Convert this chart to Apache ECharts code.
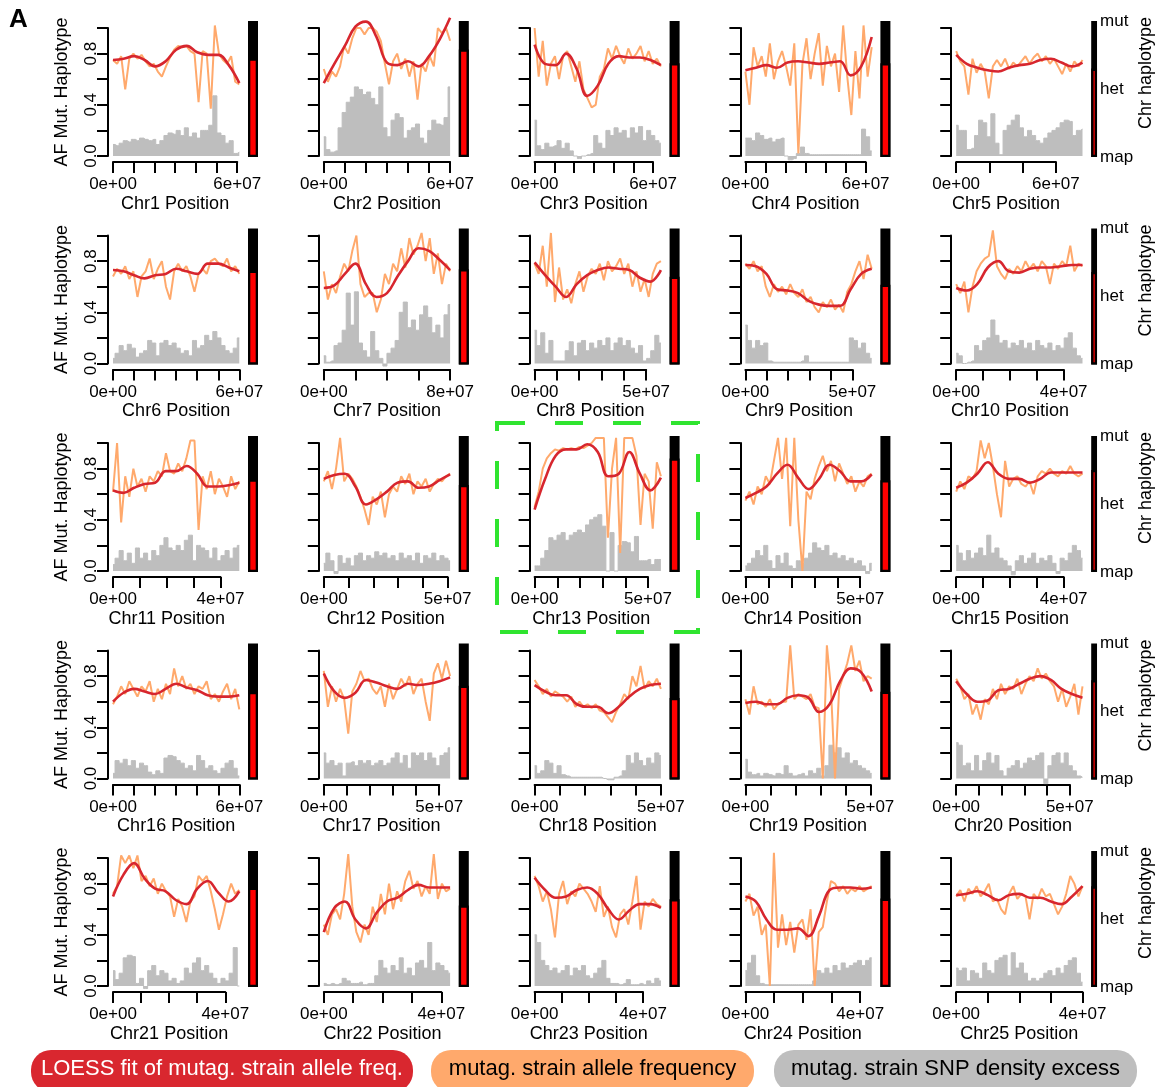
<!DOCTYPE html>
<html><head><meta charset="utf-8">
<script src="https://cdn.jsdelivr.net/npm/echarts@6/dist/echarts.min.js"></script>
<style>html,body{margin:0;padding:0;background:#fff}#c{width:1156px;height:1087px}</style>
</head><body><div id="c"></div><script>
// ---------------- data ----------------
const chrNames = ['Chr1','Chr2','Chr3','Chr4','Chr5','Chr6','Chr7','Chr8','Chr9','Chr10','Chr11','Chr12','Chr13','Chr14','Chr15','Chr16','Chr17','Chr18','Chr19','Chr20','Chr21','Chr22','Chr23','Chr24','Chr25'];
const chrLengthMb = [61,60,64,63,76,60,80,56.6,59,47,47,51,55.7,55,47,60,54.7,50,50.5,55.6,45,43,46.6,44,40];
const tickStepMb  = [10,10,10,10,20,10,20,10,10,10,10,10,10,10,10,10,10,10,10,10,10,10,10,10,10];
const hapFraction = [0.725,0.79,0.69,0.69,0.65,0.69,0.70,0.646,0.587,0.68,0.68,0.64,0.835,0.675,0.75,0.644,0.69,0.60,0.646,0.73,0.73,0.60,0.646,0.65,0.74];
const hapLabels = ['map','het','mut'];

// allele frequency of mutagenized strain (evenly spaced along each chromosome)
const af1  = [0.75,0.72,0.78,0.52,0.76,0.80,0.76,0.79,0.74,0.70,0.72,0.66,0.62,0.70,0.77,0.83,0.86,0.85,0.86,0.82,0.80,0.42,0.82,0.80,0.37,1.02,0.80,0.75,0.72,0.78,0.58,0.56];
const af2  = [0.68,0.58,0.66,0.62,0.70,0.86,0.80,0.92,1.0,1.0,0.95,1.0,1.0,0.97,0.90,0.72,0.56,0.74,0.80,0.68,0.76,0.62,0.74,0.44,0.72,0.66,0.78,0.70,1.0,0.96,1.0,0.90];
const af3  = [1.0,0.62,0.90,0.55,0.72,0.78,0.60,0.78,0.82,0.70,0.58,0.74,0.52,0.45,0.38,0.40,0.62,0.68,0.84,0.76,0.86,0.78,0.72,0.84,0.76,0.80,0.86,0.74,0.82,0.72,0.76,0.70];
const af4  = [0.66,0.40,0.85,0.70,0.78,0.62,0.88,0.60,0.74,0.82,0.70,0.55,0.88,0.02,0.72,0.92,0.60,0.80,0.96,0.55,0.86,0.70,0.80,0.50,1.02,0.62,0.32,0.82,0.45,1.02,0.62,0.85];
const af5  = [0.82,0.74,0.70,0.48,0.76,0.65,0.72,0.66,0.45,0.70,0.75,0.70,0.76,0.68,0.73,0.70,0.74,0.78,0.72,0.77,0.80,0.74,0.78,0.72,0.76,0.70,0.64,0.72,0.66,0.74,0.70,0.75];
const af6  = [0.68,0.74,0.70,0.76,0.66,0.72,0.52,0.68,0.72,0.82,0.66,0.74,0.80,0.60,0.50,0.72,0.78,0.72,0.76,0.68,0.56,0.70,0.74,0.70,0.80,0.82,0.78,0.76,0.82,0.72,0.76,0.70];
const af7  = [0.72,0.50,0.62,0.55,0.68,0.78,0.72,0.88,1.0,0.62,0.52,0.55,0.55,0.40,0.50,0.70,0.62,0.78,0.72,0.90,0.75,0.98,0.85,0.92,1.02,0.80,0.98,0.70,0.86,0.62,0.78,0.72];
const af8  = [0.78,0.70,0.92,0.60,1.02,0.48,0.75,0.50,0.58,0.47,0.62,0.72,0.56,0.68,0.74,0.70,0.78,0.65,0.80,0.72,0.76,0.82,0.70,0.78,0.60,0.72,0.56,0.66,0.52,0.70,0.78,0.80];
const af9  = [0.78,0.74,0.80,0.72,0.76,0.60,0.52,0.62,0.56,0.60,0.54,0.62,0.55,0.52,0.58,0.48,0.52,0.44,0.40,0.48,0.44,0.50,0.42,0.46,0.40,0.56,0.62,0.72,0.80,0.66,0.85,0.74];
const af10 = [0.62,0.55,0.64,0.40,0.60,0.72,0.78,0.82,0.84,1.04,0.76,0.70,0.66,0.74,0.70,0.76,0.72,0.80,0.74,0.78,0.72,0.80,0.76,0.62,0.78,0.74,0.80,0.76,0.92,0.72,0.78,0.76];
const af11 = [0.62,1.0,0.38,0.74,0.58,0.80,0.66,0.72,0.62,0.74,0.70,0.78,0.74,0.92,0.78,0.76,0.84,0.78,0.88,1.02,1.02,0.32,0.74,0.64,0.78,0.60,0.72,0.66,0.58,0.74,0.64,0.70];
const af12 = [0.70,0.78,0.64,0.80,1.04,0.70,0.76,0.72,0.66,0.58,0.48,0.36,0.58,0.52,0.62,0.42,0.60,0.66,0.62,0.74,0.68,0.76,0.60,0.70,0.66,0.72,0.62,0.68,0.72,0.70,0.74,0.76];
const af13 = [0.50,0.62,0.80,0.88,0.92,0.95,0.94,0.96,0.95,0.96,0.95,0.97,0.96,0.98,1.0,1.04,1.04,1.04,0.26,0.80,1.04,0.14,1.04,1.04,1.04,0.90,0.36,0.76,0.70,0.33,0.85,0.74];
const af14 = [0.55,0.62,0.52,0.66,0.60,0.74,0.68,0.86,1.04,0.72,1.04,0.35,1.04,0.40,0.0,0.62,0.56,0.72,0.82,0.90,0.78,0.86,0.70,0.84,0.76,0.68,0.74,0.62,0.70,0.66,0.74,0.76];
const af15 = [0.62,0.70,0.64,0.74,0.72,0.78,1.02,0.88,1.0,0.82,0.60,0.42,0.86,0.66,0.72,0.74,0.68,0.66,0.70,0.60,0.74,0.78,0.76,0.80,0.76,0.74,0.78,0.76,0.82,0.76,0.74,0.76];
const af16 = [0.58,0.64,0.72,0.66,0.76,0.70,0.64,0.72,0.68,0.76,0.60,0.70,0.62,0.74,0.66,0.86,0.72,0.80,0.70,0.74,0.66,0.72,0.70,0.76,0.62,0.66,0.60,0.68,0.74,0.62,0.70,0.54];
const af17 = [0.84,0.56,0.72,0.60,0.70,0.62,0.35,0.68,0.74,0.84,0.76,0.78,0.70,0.66,0.72,0.56,0.74,0.62,0.70,0.78,0.72,0.80,0.66,0.74,0.78,0.60,0.45,0.82,0.90,0.78,0.92,0.80];
const af18 = [0.77,0.72,0.66,0.70,0.64,0.68,0.66,0.64,0.60,0.64,0.56,0.60,0.56,0.58,0.55,0.58,0.53,0.52,0.48,0.44,0.52,0.58,0.66,0.62,0.80,0.72,0.88,0.70,0.76,0.72,0.78,0.70];
const af19 = [0.62,0.50,0.72,0.58,0.60,0.56,0.62,0.54,0.58,0.60,0.60,1.04,0.62,0.66,0.64,0.62,0.66,0.56,0.55,0.0,1.04,0.70,0.0,0.70,0.80,0.90,1.04,0.84,0.92,0.76,0.80,0.78];
const af20 = [0.78,0.72,0.62,0.66,0.50,0.58,0.46,0.62,0.58,0.70,0.62,0.74,0.66,0.72,0.70,0.78,0.66,0.74,0.80,0.76,0.86,0.78,0.82,0.76,0.72,0.60,0.70,0.56,0.64,0.74,0.50,0.72];
const af21 = [0.72,0.78,1.02,0.96,1.02,0.92,1.02,0.82,0.86,0.78,0.84,0.72,0.80,0.74,0.70,0.54,0.68,0.62,0.50,0.66,0.70,0.86,0.82,0.86,0.74,0.60,0.44,0.56,0.70,0.80,0.72,0.75];
const af22 = [0.48,0.40,0.56,0.60,0.52,0.72,1.03,0.62,0.42,0.34,0.48,0.40,0.62,0.50,0.72,0.56,0.80,0.60,0.74,0.66,0.82,0.90,0.76,0.82,0.70,0.78,0.72,1.03,0.68,0.80,0.74,0.76];
const af23 = [0.86,0.78,0.66,0.74,0.60,0.38,0.72,0.82,0.64,0.74,0.70,0.80,0.76,0.72,0.66,0.58,0.78,0.54,0.62,0.46,0.38,0.56,0.60,0.48,0.66,0.86,0.44,0.66,0.62,0.68,0.64,0.62];
const af24 = [0.66,0.72,0.55,0.62,0.40,0.48,0.0,1.04,0.30,0.56,0.32,0.50,0.26,0.48,0.52,0.36,0.60,0.0,0.42,0.46,0.66,0.82,0.80,0.74,0.78,0.72,0.76,0.74,0.78,0.74,0.76,0.78];
const af25 = [0.70,0.75,0.66,0.76,0.72,0.78,0.70,0.74,0.80,0.66,0.68,0.60,0.56,0.72,0.78,0.68,0.72,0.70,0.52,0.72,0.68,0.76,0.70,0.72,0.64,0.56,0.62,0.72,0.86,0.80,0.70,0.78];

// LOESS fit (evenly spaced along each chromosome)
const lo1  = [0.75,0.76,0.78,0.75,0.70,0.74,0.83,0.86,0.81,0.79,0.79,0.71,0.57];
const lo2  = [0.57,0.72,0.86,1.01,1.05,0.93,0.73,0.71,0.74,0.70,0.78,0.91,1.08];
const lo3  = [0.87,0.72,0.71,0.80,0.68,0.47,0.55,0.72,0.78,0.77,0.77,0.75,0.71];
const lo4  = [0.67,0.69,0.71,0.69,0.73,0.74,0.73,0.72,0.73,0.74,0.63,0.70,0.93];
const lo5  = [0.79,0.72,0.69,0.67,0.66,0.69,0.71,0.72,0.75,0.76,0.73,0.70,0.73];
const lo6  = [0.73,0.72,0.69,0.665,0.69,0.70,0.74,0.72,0.70,0.78,0.78,0.75,0.72];
const lo7  = [0.59,0.61,0.70,0.78,0.62,0.52,0.55,0.68,0.80,0.90,0.88,0.81,0.73];
const lo8  = [0.79,0.69,0.60,0.52,0.62,0.69,0.73,0.75,0.74,0.73,0.67,0.64,0.73];
const lo9  = [0.77,0.76,0.70,0.58,0.57,0.55,0.49,0.46,0.45,0.45,0.58,0.70,0.74];
const lo10 = [0.59,0.57,0.62,0.75,0.80,0.72,0.71,0.74,0.75,0.75,0.76,0.77,0.77];
const lo11 = [0.63,0.61,0.65,0.68,0.69,0.78,0.78,0.82,0.76,0.66,0.66,0.67,0.69];
const lo12 = [0.72,0.75,0.76,0.66,0.52,0.56,0.62,0.69,0.70,0.65,0.66,0.71,0.755];
const lo13 = [0.48,0.72,0.90,0.95,0.95,0.99,0.93,0.74,0.76,0.93,0.76,0.63,0.73];
const lo14 = [0.57,0.61,0.66,0.76,0.83,0.73,0.64,0.72,0.83,0.78,0.70,0.70,0.755];
const lo15 = [0.65,0.69,0.76,0.85,0.76,0.72,0.72,0.69,0.72,0.77,0.77,0.77,0.77];
const lo16 = [0.60,0.67,0.70,0.68,0.66,0.70,0.74,0.71,0.69,0.65,0.64,0.64,0.65];
const lo17 = [0.82,0.68,0.63,0.67,0.77,0.75,0.72,0.70,0.74,0.73,0.74,0.76,0.79];
const lo18 = [0.73,0.68,0.65,0.65,0.58,0.56,0.56,0.51,0.56,0.64,0.70,0.73,0.74];
const lo19 = [0.59,0.60,0.58,0.58,0.63,0.65,0.63,0.52,0.58,0.76,0.86,0.83,0.68];
const lo20 = [0.76,0.66,0.60,0.61,0.69,0.70,0.74,0.78,0.80,0.77,0.70,0.66,0.63];
const lo21 = [0.70,0.87,0.96,0.84,0.76,0.74,0.67,0.64,0.76,0.82,0.73,0.66,0.74];
const lo22 = [0.42,0.61,0.66,0.52,0.45,0.57,0.66,0.69,0.75,0.79,0.77,0.77,0.77];
const lo23 = [0.845,0.75,0.69,0.70,0.75,0.77,0.72,0.60,0.52,0.59,0.64,0.64,0.61];
const lo24 = [0.70,0.66,0.52,0.44,0.44,0.45,0.39,0.55,0.75,0.77,0.77,0.76,0.77];
const lo25 = [0.71,0.72,0.74,0.71,0.67,0.71,0.72,0.69,0.69,0.66,0.64,0.70,0.78];

// SNP density excess (evenly spaced bins)
const sd1  = [0.09,0.08,0.10,0.12,0.11,0.13,0.12,0.14,0.13,0.12,0.13,0.09,0.12,0.16,0.18,0.17,0.20,0.16,0.22,0.15,0.18,0.14,0.20,0.20,0.24,0.47,0.18,0.16,0.10,0.12,0.02,0.03];
const sd2  = [0.15,0.05,0.03,0.04,0.22,0.34,0.42,0.46,0.54,0.52,0.48,0.50,0.45,0.40,0.54,0.22,0.15,0.28,0.33,0.30,0.14,0.20,0.22,0.25,0.14,0.10,0.20,0.28,0.25,0.24,0.30,0.54];
const sd3  = [0.28,0.08,0.05,0.10,0.07,0.08,0.12,0.06,0.10,0.04,0.0,-0.02,0.0,0.01,0.02,0.16,0.10,0.06,0.20,0.16,0.22,0.18,0.20,0.14,0.22,0.18,0.23,0.12,0.20,0.16,0.12,0.10];
const sd4  = [0.14,0.14,0.12,0.18,0.16,0.13,0.14,0.11,0.13,0.14,0.0,-0.03,-0.02,0.02,0.07,0.02,0.01,0.01,0.01,0.01,0.01,0.01,0.01,0.01,0.01,0.01,0.01,0.01,0.01,0.21,0.15,0.04];
const sd5  = [0.24,0.20,0.20,0.05,0.06,0.16,0.28,0.26,0.15,0.33,0.10,0.01,0.20,0.24,0.28,0.32,0.22,0.15,0.20,0.16,0.12,0.10,0.14,0.18,0.20,0.22,0.26,0.28,0.27,0.16,0.20,0.21];
const sd6  = [0.04,0.08,0.14,0.10,0.15,0.12,0.05,0.08,0.10,0.18,0.16,0.06,0.16,0.18,0.14,0.16,0.12,0.08,0.10,0.06,0.18,0.12,0.14,0.22,0.18,0.25,0.20,0.14,0.10,0.08,0.12,0.20];
const sd7  = [0.06,0.01,0.02,0.14,0.16,0.26,0.55,0.30,0.56,0.16,0.10,0.05,0.25,0.10,0.04,-0.02,0.08,0.12,0.18,0.40,0.48,0.28,0.34,0.26,0.38,0.45,0.36,0.24,0.30,0.20,0.38,0.46];
const sd8  = [0.26,0.14,0.24,0.08,0.18,0.02,0.02,0.02,0.10,0.17,0.06,0.16,0.18,0.10,0.16,0.12,0.18,0.14,0.20,0.10,0.16,0.20,0.14,0.18,0.12,0.08,0.14,0.02,0.04,0.10,0.22,0.16];
const sd9  = [0.30,0.18,0.12,0.18,0.14,0.16,0.02,0.01,0.01,0.01,0.01,0.01,0.01,0.01,0.02,0.06,0.01,0.01,0.01,0.01,0.01,0.01,0.01,0.01,0.01,0.01,0.20,0.18,0.12,0.16,0.08,0.04];
const sd10 = [0.08,0.06,0.0,0.01,0.02,0.14,0.10,0.18,0.20,0.34,0.22,0.16,0.18,0.12,0.16,0.14,0.18,0.12,0.16,0.10,0.18,0.14,0.12,0.16,0.10,0.14,0.12,0.20,0.24,0.12,0.06,0.04];
const sd11 = [0.05,0.10,0.16,0.08,0.14,0.06,0.18,0.10,0.14,0.08,0.16,0.12,0.20,0.26,0.18,0.16,0.20,0.16,0.24,0.28,0.08,0.20,0.18,0.16,0.10,0.18,0.08,0.12,0.16,0.10,0.18,0.20];
const sd12 = [0.06,0.14,0.08,-0.02,0.12,0.06,0.10,0.04,0.12,0.14,0.08,0.12,0.10,0.15,0.12,0.14,0.10,0.12,0.08,0.14,0.10,0.12,0.08,0.14,0.06,0.12,0.10,0.14,0.08,0.12,0.10,0.08];
const sd13 = [0.04,0.04,0.10,0.16,0.26,0.24,0.28,0.30,0.24,0.28,0.30,0.32,0.30,0.36,0.40,0.42,0.44,0.35,0.0,0.30,0.0,0.20,0.23,0.22,0.15,0.27,0.08,0.08,0.09,0.05,0.09,0.09];
const sd14 = [0.04,0.06,0.10,0.16,0.12,0.20,0.08,0.02,0.12,0.06,0.14,0.04,0.02,0.08,0.06,0.10,0.14,0.22,0.18,0.16,0.20,0.12,0.14,0.10,0.12,0.08,0.10,0.06,0.08,0.04,-0.02,0.06];
const sd15 = [0.20,0.14,0.08,0.16,0.10,0.14,0.18,0.12,0.28,0.14,0.18,0.10,0.08,0.04,-0.03,0.08,0.12,0.06,0.10,0.14,0.06,0.10,0.08,0.12,0.06,-0.02,0.10,0.08,0.14,0.20,0.16,0.10];
const sd16 = [0.04,0.14,0.12,0.15,0.10,0.14,0.08,0.12,0.10,0.05,0.03,0.06,0.04,0.16,0.18,0.17,0.14,0.12,0.08,0.10,0.06,0.18,0.14,0.08,0.10,0.06,0.04,0.08,0.12,0.14,0.08,0.02];
const sd17 = [0.20,0.12,0.14,0.10,0.12,0.02,0.12,0.13,0.10,0.14,0.12,0.14,0.10,0.12,0.14,0.10,0.12,0.16,0.20,0.12,0.18,0.08,0.20,0.18,0.20,0.14,0.20,0.16,0.10,0.18,0.20,0.24];
const sd18 = [0.10,0.04,0.06,0.14,0.12,0.04,0.10,0.03,0.02,0.01,0.01,0.01,0.01,0.01,0.01,0.01,0.01,0.0,-0.01,-0.01,0.01,0.02,0.06,0.18,0.12,0.20,0.14,0.10,0.16,0.12,0.20,0.18];
const sd19 = [0.15,0.05,0.03,0.04,0.02,0.04,0.03,0.02,0.04,0.03,0.10,0.04,0.02,0.03,0.04,0.02,0.06,0.04,0.08,0.02,0.10,0.26,0.20,0.24,0.16,0.20,0.12,0.14,0.10,0.08,0.06,0.04];
const sd20 = [0.28,0.26,0.10,0.12,0.06,0.18,0.06,0.14,0.20,0.12,0.18,0.06,0.02,0.08,0.10,0.14,0.08,0.12,0.16,0.14,0.18,0.20,-0.04,0.10,0.18,0.20,0.12,0.20,0.10,0.06,0.02,0.01];
const sd21 = [0.12,0.05,0.10,0.22,0.24,0.23,0.02,0.06,-0.02,0.12,0.16,0.08,0.12,0.10,0.04,0.06,0.02,0.04,0.14,0.10,0.18,0.22,0.12,0.16,0.10,0.06,0.02,0.06,0.04,0.10,0.30,0.0];
const sd22 = [0.02,0.01,0.02,0.01,0.02,0.06,0.04,0.02,0.02,0.03,0.01,0.02,0.02,0.08,0.20,0.14,0.10,0.16,0.12,0.22,0.10,0.14,0.08,0.18,0.20,0.14,0.34,0.12,0.18,0.16,0.12,0.10];
const sd23 = [0.40,0.34,0.20,0.16,0.12,0.14,0.10,0.12,0.16,0.08,0.14,0.12,0.16,0.08,0.06,0.10,0.14,0.20,0.06,0.02,0.02,0.01,0.02,0.05,0.01,0.01,0.02,0.01,0.04,0.02,0.06,0.04];
const sd24 = [0.12,0.18,0.24,0.08,0.02,0.01,0.01,0.01,0.01,0.01,0.01,0.01,0.01,0.01,0.01,0.01,0.01,0.04,0.12,0.10,0.14,0.10,0.16,0.12,0.18,0.14,0.16,0.18,0.20,0.16,0.20,0.22];
const sd25 = [0.14,0.12,0.14,0.04,0.12,0.10,0.06,0.18,0.12,0.10,0.20,0.22,0.24,0.08,0.26,0.14,0.18,0.10,0.04,0.06,0.04,0.06,0.10,0.12,0.08,0.14,0.10,0.16,0.20,0.22,0.10,0.03];

const afSeries    = [af1,af2,af3,af4,af5,af6,af7,af8,af9,af10,af11,af12,af13,af14,af15,af16,af17,af18,af19,af20,af21,af22,af23,af24,af25];
const loessSeries = [lo1,lo2,lo3,lo4,lo5,lo6,lo7,lo8,lo9,lo10,lo11,lo12,lo13,lo14,lo15,lo16,lo17,lo18,lo19,lo20,lo21,lo22,lo23,lo24,lo25];
const snpSeries   = [sd1,sd2,sd3,sd4,sd5,sd6,sd7,sd8,sd9,sd10,sd11,sd12,sd13,sd14,sd15,sd16,sd17,sd18,sd19,sd20,sd21,sd22,sd23,sd24,sd25];
const yTickLabels = [0, 0.4, 0.8];
const legendTexts = ['LOESS fit of mutag. strain allele freq.', 'mutag. strain allele frequency', 'mutag. strain SNP density excess'];

// ---------------- layout / style ----------------
const FONT = 'Liberation Sans, Arial, Helvetica, sans-serif';
const C_ORANGE = '#FFA96C', C_RED = '#D7262E', C_GREY = '#BEBEBE';
const dataW = 126.3, colStep = 210.8, rowStep = 207.5, x0Base = 113, yTopBase = 28, unitH = 128;
const axisLine = {show: true, onZero: false, lineStyle: {color: '#000', width: 2}};
const axisTick = {show: true, length: 11, lineStyle: {color: '#000', width: 2}};

const grids = [], xAxes = [], yAxes = [], series = [];
const spread = (arr, L) => arr.map((v, k) => [k * L / (arr.length - 1), v]);

chrNames.forEach((name, i) => {
  const c = i % 5, r = Math.floor(i / 5);
  const x0 = x0Base + c * colStep, yTop = yTopBase + r * rowStep;
  const L = chrLengthMb[i], step = tickStepMb[i];
  const lastTick = Math.floor(L / step + 1e-9) * step;

  // plot area
  const g = grids.length;
  grids.push({left: x0 - 0.04 * dataW, top: yTop - 0.09 * unitH, width: 1.08 * dataW, height: 1.14 * unitH});
  xAxes.push({gridIndex: g, type: 'value', min: -0.04 * L, max: 1.04 * L, show: false});
  yAxes.push({gridIndex: g, type: 'value', min: -0.05, max: 1.09, show: false, splitLine: {show: false}});
  series.push({type: 'line', name: 'mutag. strain SNP density excess', xAxisIndex: g, yAxisIndex: g,
    data: spread(snpSeries[i], L), step: 'middle', symbol: 'none', silent: true,
    lineStyle: {color: C_GREY, width: 1}, areaStyle: {color: C_GREY, opacity: 1}});
  series.push({type: 'line', name: 'mutag. strain allele frequency', xAxisIndex: g, yAxisIndex: g,
    data: spread(afSeries[i], L), symbol: 'none', silent: true,
    lineStyle: {color: C_ORANGE, width: 2}});
  series.push({type: 'line', name: 'LOESS fit', xAxisIndex: g, yAxisIndex: g,
    data: spread(loessSeries[i], L), symbol: 'none', smooth: 0.4, silent: true,
    lineStyle: {color: C_RED, width: 2.6}});

  // R-style axes (0..last tick, 0..1)
  const a = grids.length;
  grids.push({left: x0, top: yTop, width: dataW * lastTick / L, height: unitH});
  xAxes.push({gridIndex: a, type: 'value', min: 0, max: lastTick, interval: step, position: 'bottom', offset: 6,
    axisLine, axisTick, splitLine: {show: false},
    axisLabel: {fontSize: 17, color: '#000', fontFamily: FONT, margin: 14,
      formatter: v => v === 0 ? '0e+00' : (Math.abs(v - lastTick) < 1e-6 ? (lastTick / 10) + 'e+07' : '')},
    name: name + ' Position', nameLocation: 'middle', nameGap: 33,
    nameTextStyle: {fontSize: 18, color: '#000', fontFamily: FONT}});
  yAxes.push({gridIndex: a, type: 'value', min: 0, max: 1, interval: 0.2, offset: 5,
    axisLine, axisTick, splitLine: {show: false},
    axisLabel: {show: c === 0, rotate: 90, fontSize: 17, color: '#000', fontFamily: FONT, margin: 8,
      formatter: v => yTickLabels.some(t => Math.abs(v - t) < 1e-6) ? v.toFixed(1) : ''},
    name: c === 0 ? 'AF Mut. Haplotype' : '', nameLocation: 'middle', nameRotate: 90, nameGap: 37,
    nameTextStyle: {fontSize: 18, color: '#000', fontFamily: FONT}});

  // chromosome haplotype bar
  const b = grids.length;
  grids.push({left: x0 + 135, top: yTop - 7, width: 10, height: 136});
  xAxes.push({gridIndex: b, type: 'category', data: [name], show: false});
  yAxes.push({gridIndex: b, type: 'value', min: 0, max: 1, interval: 0.5, show: c === 4, position: 'right',
    axisLine: {show: false}, axisTick: {show: false}, splitLine: {show: false},
    axisLabel: {margin: 3, fontSize: 17, color: '#000', fontFamily: FONT, formatter: v => hapLabels[Math.round(v * 2)]},
    name: 'Chr haplotype', nameLocation: 'middle', nameRotate: 90, nameGap: 34,
    nameTextStyle: {fontSize: 18, color: '#000', fontFamily: FONT, padding: [0, 0, 0, 32]}});
  series.push({type: 'bar', xAxisIndex: b, yAxisIndex: b, data: [1], barWidth: '100%', silent: true,
    itemStyle: {color: '#000'}});
  series.push({type: 'bar', xAxisIndex: b, yAxisIndex: b, data: [hapFraction[i]], barWidth: '100%', barGap: '-100%', silent: true,
    itemStyle: {color: '#FF0000', borderColor: '#000', borderWidth: 2.3}});
});

const pills = [
  {x: 31, w: 382, fill: '#D9272F', text: '#fff'},
  {x: 431, w: 323, fill: C_ORANGE, text: '#000'},
  {x: 774, w: 363, fill: C_GREY, text: '#000'}
];
const graphic = [
  {type: 'text', left: 9, top: 7, style: {text: 'A', font: 'bold 26px ' + FONT, fill: '#000'}},
  {type: 'rect', shape: {x: 497, y: 423, width: 201, height: 209}, silent: true,
   style: {fill: 'none', stroke: '#2FE42F', lineWidth: 4, lineDash: [28, 30]}}
];
pills.forEach((p, k) => {
  graphic.push({type: 'rect', shape: {x: p.x, y: 1050, width: p.w, height: 42, r: 20}, style: {fill: p.fill}});
  graphic.push({type: 'text', x: p.x + p.w / 2, y: 1069,
    style: {text: legendTexts[k], font: '22px ' + FONT, fill: p.text, textAlign: 'center', textVerticalAlign: 'middle'}});
});

const chart = echarts.init(document.getElementById('c'), null, {renderer: 'canvas'});
chart.setOption({
  animation: false,
  backgroundColor: '#fff',
  textStyle: {fontFamily: FONT},
  grid: grids, xAxis: xAxes, yAxis: yAxes, series, graphic
});
</script></body></html>
